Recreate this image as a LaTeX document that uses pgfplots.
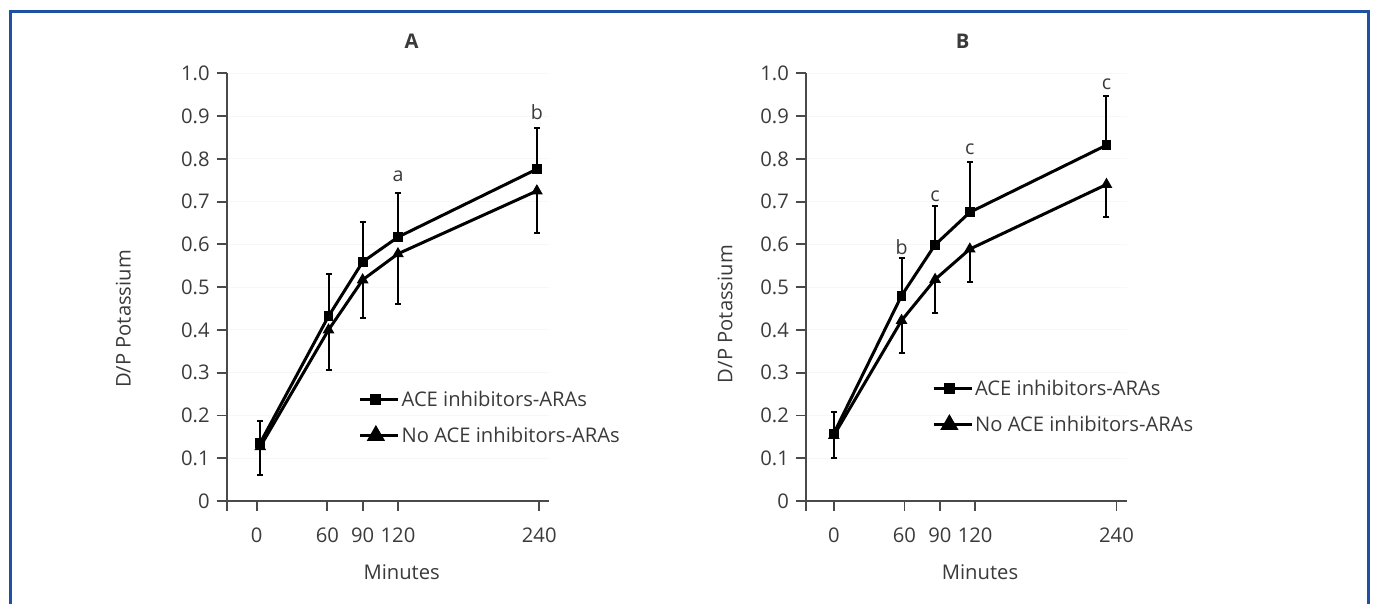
\documentclass[border=0pt]{standalone}
\usepackage{fontspec}
\setmainfont{Open Sans}
\usepackage{pgfplots}
\pgfplotsset{compat=1.18}
\definecolor{frameblue}{HTML}{1F51A3}
\definecolor{txt}{HTML}{3A3A3A}
\definecolor{axgray}{HTML}{4A4A4A}
\newcommand{\fs}{\fontsize{10.1}{12}\selectfont}
\newcommand{\fl}{\fontsize{10.1}{12}\selectfont}
\newcommand{\fa}{\fontsize{9.8}{11}\selectfont}
\pgfplotsset{
  kpanel/.style={
    scale only axis, height=213.85pt,
    axis x line=bottom, axis y line=left,
    axis line style={-, axgray, line width=0.9pt},
    tick style={axgray, line width=0.9pt}, tick align=outside, major tick length=5pt,
    ymin=0, ymax=1,
    ytick={0,0.1,0.2,0.3,0.4,0.5,0.6,0.7,0.8,0.9,1.0},
    yticklabels={0,0.1,0.2,0.3,0.4,0.5,0.6,0.7,0.8,0.9,1.0},
    xticklabels={,0,60,90,120,240},
    xticklabel style={yshift=-5pt},
    ticklabel style={font=\fs, text=txt},
    label style={font=\fs, text=txt, anchor=center},
    xlabel=Minutes, ylabel=D/P Potassium,
    title style={font=\fs\bfseries, text=txt, anchor=center},
    ymajorgrids, grid style={black!3, line width=0.5pt},
    clip=false,
    legend style={draw=none, fill=none, inner sep=0pt, font=\fl, text=txt,
      anchor=west, row sep=9pt,
      nodes={inner sep=1pt, text height=7pt, text depth=0pt}},
    legend cell align=left,
  },
  sqser/.style={black, line width=1.5pt, mark=square*, mark size=1.7pt, mark options={solid},
    error bars/y dir=plus, error bars/y explicit,
    error bars/error bar style={line width=1pt, black},
    error bars/error mark options={rotate=90, mark size=1.5pt, line width=1pt, black}},
  trser/.style={black, line width=1.5pt, mark=triangle*, mark size=1.9pt, mark options={solid},
    error bars/y dir=minus, error bars/y explicit,
    error bars/error bar style={line width=1pt, black},
    error bars/error mark options={rotate=90, mark size=1.5pt, line width=1pt, black}},
  sqleg/.style={legend image code/.code={
    \path (0pt,0pt) -- (19pt,0pt);
    \draw[black, line width=1.5pt] (0pt,0pt) -- (15.85pt,0pt);
    \draw[black, mark=square*, mark size=2pt] plot coordinates {(7.9pt,0pt)};}},
  trleg/.style={legend image code/.code={
    \path (0pt,0pt) -- (19pt,0pt);
    \draw[black, line width=0.7pt] (0pt,0pt) -- (15.85pt,0pt);
    \draw[black, mark=triangle*, mark size=3.8pt] plot coordinates {(7.9pt,0pt)};}},
}
\begin{document}
\begin{tikzpicture}
\path[use as bounding box] (0,0) rectangle (686.5pt,302pt);
\draw[frameblue, line width=1.5pt] (5.25pt,-3pt) -- (5.25pt,296pt) -- (684.35pt,296pt) -- (684.35pt,-3pt);

% Panel A
\begin{axis}[kpanel, at={(113.35pt,51.5pt)}, anchor=south west, width=161.15pt,
  xmin=-25.5, xmax=248.3, xtick={-25.5,0,60,90,120,240},
  title=A, title style={at={(axis description cs:0.5737,1.046)}},
  ylabel style={at={(axis description cs:-0.321,0.4255)}},
  xlabel style={at={(axis description cs:0.543,-0.1653)}},
  legend style={at={(axis description cs:0.408,0.195)}}]
\addplot[sqleg, sqser] table[x=x, y=y, y error=e] {
x y e
3 0.136 0.051
61 0.432 0.098
90 0.559 0.093
120 0.617 0.104
238 0.776 0.096
};
\addlegendentry{ACE inhibitors-ARAs}
\addplot[trleg, trser] table[x=x, y=y, y error=e] {
x y e
3 0.127 0.066
61 0.400 0.094
90 0.517 0.090
120 0.578 0.117
238 0.725 0.098
};
\addlegendentry{No ACE inhibitors-ARAs}
\node[font=\fa, text=txt] at (axis cs:120,0.760) {a};
\node[font=\fa, text=txt] at (axis cs:238,0.910) {b};
\end{axis}

% Panel B
\begin{axis}[kpanel, at={(402.95pt,51.5pt)}, anchor=south west, width=160.65pt,
  xmin=-23.7, xmax=249.1, xtick={-23.7,0,60,90,120,240},
  title=B, title style={at={(axis description cs:0.488,1.046)}},
  ylabel style={at={(axis description cs:-0.2518,0.437)}},
  xlabel style={at={(axis description cs:0.5419,-0.1653)}},
  legend style={at={(axis description cs:0.3915,0.2205)}}]
\addplot[sqleg, sqser] table[x=x, y=y, y error=e] {
x y e
0 0.158 0.051
57.5 0.480 0.087
86 0.599 0.091
115.5 0.675 0.118
231.5 0.832 0.116
};
\addlegendentry{ACE inhibitors-ARAs}
\addplot[trleg, trser] table[x=x, y=y, y error=e] {
x y e
0 0.153 0.052
57.5 0.422 0.077
86 0.518 0.079
115.5 0.589 0.078
231.5 0.740 0.077
};
\addlegendentry{No ACE inhibitors-ARAs}
\node[font=\fa, text=txt] at (axis cs:57.5,0.5946) {b};
\node[font=\fa, text=txt] at (axis cs:86,0.7115) {c};
\node[font=\fa, text=txt] at (axis cs:115.5,0.823) {c};
\node[font=\fa, text=txt] at (axis cs:231.5,0.974) {c};
\end{axis}
\end{tikzpicture}
\end{document}
